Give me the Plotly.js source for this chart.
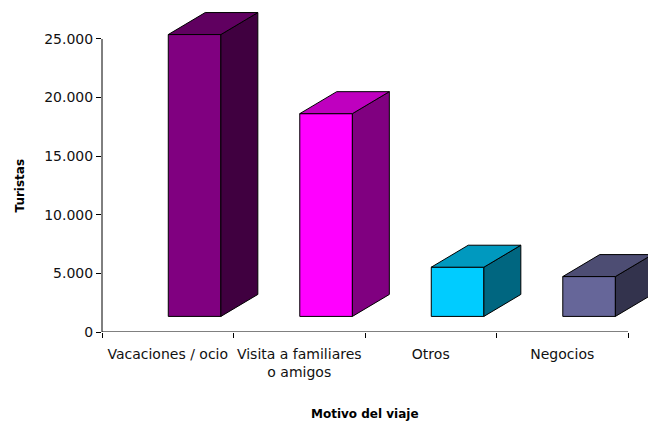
<!DOCTYPE html>
<html>
<head>
<meta charset="utf-8">
<script src="https://cdn.plot.ly/plotly-3.0.1.min.js"></script>
<style>html,body{margin:0;padding:0;background:#fff;} #chart{width:648px;height:424px;}</style>
</head>
<body>
<div id="chart"></div>
<script>
// ---- data ----
const categories = ["Vacaciones / ocio", "Visita a familiares<br>o amigos", "Otros", "Negocios"];
const turistas = [24050, 17300, 4200, 3400];
const yTickVals = [0, 5000, 10000, 15000, 20000, 25000];
const yTickText = ["0", "5.000", "10.000", "15.000", "20.000", "25.000"];

// ---- style ----
const frontColors = ["#800080", "#FF00FF", "#00CCFF", "#666699"];
const topColors   = ["#600060", "#BF00BF", "#0099BF", "#4D4D73"];
const sideColors  = ["#400040", "#800080", "#006680", "#33334D"];
const barOffset = 0.004, barWidth = 0.40;     // category units
const floorShift = 1330;                      // depth shift of bar front (value units)
const depthX = 0.281, depthY = 1875;          // oblique depth of bars
const edge = {color: "#000", width: 1};

const xs = categories.map((c, i) => i);
const traces = [{
  type: "bar", x: xs, y: turistas, base: xs.map(() => floorShift),
  offset: barOffset, width: barWidth,
  marker: {color: frontColors, line: edge},
  hoverinfo: "skip", showlegend: false
}];
turistas.forEach((v, i) => {
  const x0 = xs[i] + barOffset, x1 = x0 + barWidth;
  const yb = floorShift, yt = floorShift + v;
  traces.push({
    type: "scatter", mode: "lines", fill: "toself", fillcolor: sideColors[i],
    x: [x1, x1, x1 + depthX, x1 + depthX, x1],
    y: [yb, yt, yt + depthY, yb + depthY, yb],
    line: edge, hoverinfo: "skip", showlegend: false
  });
  traces.push({
    type: "scatter", mode: "lines", fill: "toself", fillcolor: topColors[i],
    x: [x0, x1, x1 + depthX, x0 + depthX, x0],
    y: [yt, yt, yt + depthY, yt + depthY, yt],
    line: edge, hoverinfo: "skip", showlegend: false
  });
});

const font = {family: "DejaVu Sans, Verdana, sans-serif", size: 12, color: "#000"};
const tickFont = {family: "DejaVu Sans, Verdana, sans-serif", size: 14, color: "#111"};
const layout = {
  width: 648, height: 424,
  margin: {l: 102, r: 0, t: 5, b: 92, pad: 0},
  paper_bgcolor: "#fff", plot_bgcolor: "#fff",
  font: font,
  showlegend: false,
  xaxis: {
    range: [-0.5, 3.652], tickvals: xs, ticktext: categories,
    ticks: "", showgrid: false, zeroline: false, showline: false,
    tickfont: tickFont, ticklabelstandoff: 12,
    minor: {tick0: -0.5, dtick: 1, ticks: "outside", ticklen: 5, tickcolor: "#000", tickwidth: 1, showgrid: false}
  },
  yaxis: {
    range: [0, 27900], tickvals: yTickVals, ticktext: yTickText,
    ticks: "outside", ticklen: 5, tickcolor: "#000", tickwidth: 1,
    showgrid: false, zeroline: false, showline: false, tickfont: tickFont
  },
  shapes: [
    {type: "line", xref: "paper", yref: "y", x0: 0, x1: 0, y0: 0, y1: 25000, line: {color: "#000", width: 1}},
    {type: "line", xref: "x", yref: "y", x0: -0.5, x1: 3.5, y0: 0, y1: 0, line: {color: "#000", width: 1}}
  ],
  annotations: [
    {text: "<b>Turistas</b>", xref: "paper", yref: "y", x: 0, y: 12500, xshift: -82,
     textangle: -90, showarrow: false, xanchor: "center", yanchor: "middle", font: font},
    {text: "<b>Motivo del viaje</b>", xref: "x", yref: "paper", x: 1.5, y: 0, yshift: -82,
     showarrow: false, xanchor: "center", yanchor: "middle", font: font}
  ]
};
Plotly.newPlot("chart", traces, layout, {displayModeBar: false, staticPlot: true});
</script>
</body>
</html>
